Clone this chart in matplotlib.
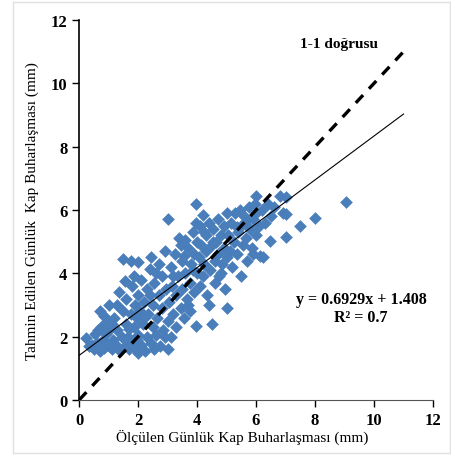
import numpy as np
import matplotlib.pyplot as plt
from matplotlib.patches import Rectangle

# measured (x) and estimated (y) daily pan evaporation, mm
x_vals = [
    0.25, 0.35, 0.5, 0.55, 0.6, 0.7, 0.7, 0.75, 0.8, 0.85, 0.9, 0.95, 1.0, 1.0, 0.65, 0.45, 0.85, 1.0,
    1.1, 1.1, 1.15, 1.2, 1.25, 1.3, 1.35, 1.4, 1.45, 1.5, 1.5, 1.55, 1.6, 1.6, 1.65, 1.7, 1.75, 1.75,
    1.8, 1.8, 1.85, 1.9, 1.9, 1.95, 2.0, 2.0, 2.0, 2.0, 1.3, 1.55, 1.7, 1.85, 1.95,
    2.05, 2.1, 2.1, 2.15, 2.2, 2.25, 2.3, 2.3, 2.35, 2.4, 2.45, 2.45, 2.5, 2.5, 2.55, 2.6, 2.6, 2.65,
    2.7, 2.75, 2.8, 2.8, 2.85, 2.9, 2.95, 3.0, 3.0, 3.0, 2.2, 2.4, 2.7, 2.9, 2.55,
    3.05, 3.1, 3.1, 3.15, 3.2, 3.25, 3.3, 3.3, 3.35, 3.4, 3.45, 3.5, 3.5, 3.55, 3.6, 3.6, 3.65, 3.7,
    3.75, 3.75, 3.8, 3.85, 3.9, 3.9, 3.95, 3.95, 3.97, 4.0, 4.0, 3.2, 3.45, 3.7, 3.55, 3.85,
    4.05, 4.1, 4.1, 4.15, 4.2, 4.2, 4.25, 4.3, 4.3, 4.35, 4.4, 4.4, 4.45, 4.5, 4.5, 4.55, 4.6, 4.6,
    4.65, 4.7, 4.7, 4.75, 4.8, 4.85, 4.9, 4.9, 4.95, 5.0, 5.0, 5.0, 4.25, 4.55, 4.8,
    5.05, 5.1, 5.15, 5.2, 5.25, 5.3, 5.35, 5.4, 5.45, 5.5, 5.5, 5.55, 5.6, 5.65, 5.7, 5.75, 5.8, 5.85,
    5.9, 5.9, 5.95, 6.0, 6.0, 6.0, 5.35, 5.65,
    6.1, 6.15, 6.2, 6.25, 6.3, 6.4, 6.47, 6.5, 6.6, 6.8, 6.9, 7.0, 7.02, 7.02,
    7.5, 8.0, 9.05,
]
y_vals = [
    1.95, 1.7, 1.6, 2.1, 1.8, 1.55, 2.8, 2.3, 1.9, 1.65, 2.1, 2.5, 3.0, 1.7, 2.2, 1.75, 2.65, 2.2,
    1.6, 2.4, 1.9, 2.6, 1.75, 2.2, 3.4, 1.55, 2.0, 4.45, 2.8, 1.7, 2.4, 3.2, 2.0, 1.6, 4.4, 2.7,
    3.6, 1.85, 2.3, 3.0, 1.65, 2.6, 4.35, 3.3, 2.05, 1.5, 3.0, 3.75, 2.25, 3.9, 1.9,
    2.8, 3.8, 1.75, 2.4, 3.1, 1.55, 2.0, 3.5, 2.7, 4.15, 4.5, 1.8, 3.0, 2.3, 3.7, 2.05, 4.0, 2.6,
    3.3, 1.7, 2.9, 3.9, 2.2, 4.7, 3.5, 5.7, 1.6, 2.5, 2.6, 3.3, 4.3, 2.0, 1.6,
    3.1, 4.2, 2.0, 3.6, 2.7, 4.6, 3.3, 2.3, 3.9, 5.1, 2.9, 4.4, 3.5, 2.6, 5.05, 4.0, 3.2, 4.8,
    2.8, 3.7, 4.3, 5.3, 3.4, 4.6, 5.6, 2.35, 6.18, 4.0, 5.0, 3.9, 4.9, 3.0, 4.55, 4.1,
    4.5, 3.6, 5.5, 4.9, 5.85, 3.9, 4.3, 5.2, 4.7, 3.3, 5.6, 3.0, 4.1, 4.9, 2.4, 5.4, 4.4, 3.7,
    5.0, 5.7, 4.6, 3.9, 5.2, 4.3, 5.5, 4.8, 3.5, 2.9, 5.9, 4.5, 5.3, 5.0, 4.0,
    5.2, 4.7, 5.6, 4.2, 5.0, 5.9, 4.6, 5.3, 6.0, 3.9, 5.5, 4.9, 5.8, 5.1, 4.4, 6.1, 5.4, 4.8,
    5.7, 4.6, 6.2, 5.2, 6.45, 5.9, 5.45, 5.65,
    5.5, 4.55, 6.0, 4.5, 5.6, 6.2, 5.03, 5.8, 6.1, 6.45, 5.9, 6.4, 5.87, 5.14,
    5.5, 5.75, 6.25,
]

slope, intercept = 0.6929, 1.408
line_x = [0, 11]
ticks = [0, 2, 4, 6, 8, 10, 12]

plt.rcParams['font.family'] = ['Liberation Serif', 'DejaVu Serif']

fig = plt.figure(figsize=(4.52, 4.56), dpi=100)
fig.patches.append(Rectangle((0.028, 0.004), 0.968, 0.99, transform=fig.transFigure,
                             fill=False, edgecolor='#e0e0e0', linewidth=1))
ax = fig.add_axes([0.175, 0.1206, 0.783, 0.8334])

ax.scatter(x_vals, y_vals, marker='D', s=42, color='#4a7ebb', linewidths=0, zorder=2)
ax.plot(line_x, line_x, color='black', linestyle=(0, (3.2, 2.6)), linewidth=2.4, zorder=3)
ax.plot(line_x, [slope * v + intercept for v in line_x], color='black', linewidth=0.8, zorder=3)

ax.text(7.5, 11.25, '1-1 doğrusu', fontsize=11, fontweight='bold', va='center', ha='left')
ax.text(9.56, 2.9, 'y = 0.6929x + 1.408\nR² = 0.7', fontsize=11.5, fontweight='bold',
        ha='center', va='center', linespacing=1.15)

ax.set_xlim(0, 12)
ax.set_ylim(0, 12)
ax.set_xticks(ticks)
ax.set_yticks(ticks)
ax.tick_params(direction='out', length=5, width=1, labelsize=12)
for lab in ax.get_xticklabels() + ax.get_yticklabels():
    lab.set_fontweight('bold')
for side in ['top', 'right']:
    ax.spines[side].set_visible(False)
ax.spines['left'].set_linewidth(1.2)
ax.spines['bottom'].set_color('#555555')

ax.set_xlabel('Ölçülen Günlük Kap Buharlaşması (mm)', fontsize=11, labelpad=2)
ax.xaxis.set_label_coords(0.46, -0.075)
ax.set_ylabel('Tahmin Edilen Günlük  Kap Buharlaşması (mm)', fontsize=11, labelpad=8)

fig.savefig('out.png', dpi=100)
